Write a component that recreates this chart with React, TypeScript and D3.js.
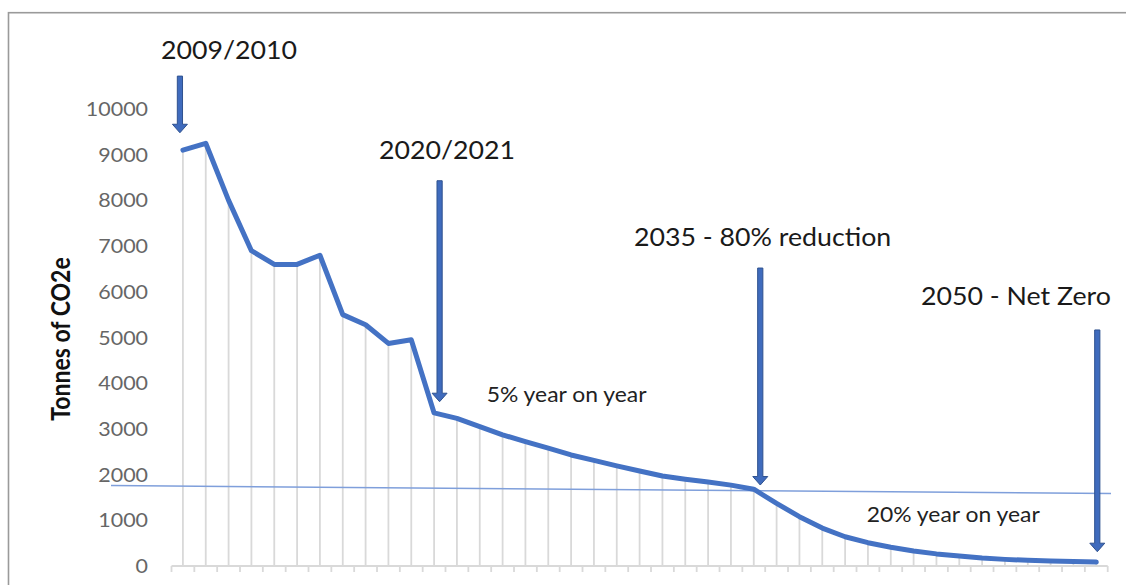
import React from "react";
import * as d3 from "d3";

// Financial years on the category axis
const CATEGORIES = [
  "2009/10", "2010/11", "2011/12", "2012/13", "2013/14", "2014/15", "2015/16",
  "2016/17", "2017/18", "2018/19", "2019/20", "2020/21", "2021/22", "2022/23",
  "2023/24", "2024/25", "2025/26", "2026/27", "2027/28", "2028/29", "2029/30",
  "2030/31", "2031/32", "2032/33", "2033/34", "2034/35", "2035/36", "2036/37",
  "2037/38", "2038/39", "2039/40", "2040/41", "2041/42", "2042/43", "2043/44",
  "2044/45", "2045/46", "2046/47", "2047/48", "2048/49", "2049/50",
];

// Tonnes of CO2e per year (actuals, then the reduction pathway)
const EMISSIONS = [
  9100, 9250, 8000, 6900, 6600, 6600, 6800, 5500, 5280, 4870, 4950,
  3350, 3230, 3050, 2870, 2720, 2580, 2430, 2310, 2190, 2080, 1970, 1900, 1840, 1770, 1680,
  1370, 1080, 830, 640, 510, 410, 330, 265, 220, 175, 145, 125, 110, 100, 85,
];

const Y_TICKS = [0, 1000, 2000, 3000, 4000, 5000, 6000, 7000, 8000, 9000, 10000];

// Milestone call-outs
const MILESTONE_LABELS = ["2009/2010", "2020/2021", "2035 - 80% reduction", "2050 - Net Zero"];
const MILESTONE_CATEGORIES = ["2009/10", "2020/21", "2034/35", "2049/50"];
const ARROW_FROM = [10720, 8430, 6520, 5165];
const ARROW_TO = [9480, 3595, 1772, 313];

// Rate notes
const RATE_NOTES = ["5% year on year", "20% year on year"];

// Level line (tonnes at its left and right ends)
const LEVEL_LINE = [1760, 1585];

// ---- layout ----
const W = 1126;
const H = 585;
const X0 = 171.5;
const X1 = 1107.7;
const Y_TOP = 109;
const Y_BASE = 566;
const SX = 1.1; // horizontal stretch applied to text

const ARROW_NUDGE = [-3, 5.5, 6.5, 1];
const LABEL_X = [161, 379, 634, 921];
const LABEL_Y = [59.3, 159.3, 246, 305];
const NOTE_X = [486.7, 866.7];
const NOTE_Y = [401.7, 522.3];
const LEVEL_X = [111, 1111];

const FONT = "Lato, 'Open Sans', sans-serif";

export default function App() {
  const x = d3.scaleBand<string>().domain(CATEGORIES).range([X0, X1]).padding(0);
  const y = d3.scaleLinear().domain([0, 10000]).range([Y_BASE, Y_TOP]);
  const cx = (c: string) => (x(c) ?? 0) + x.bandwidth() / 2;

  const lineGen = d3
    .line<number>()
    .x((_, i) => cx(CATEGORIES[i]))
    .y((d) => y(d));

  const boundaries = d3.range(CATEGORIES.length + 1).map((i) => X0 + i * x.bandwidth());

  const arrowPath = (ax: number, top: number, tip: number) => {
    const sw = 2.6;
    const hw = 7.5;
    const hh = 8.5;
    const neck = tip - hh;
    return `M${ax - sw},${top} L${ax + sw},${top} L${ax + sw},${neck} L${ax + hw},${neck} L${ax},${tip} L${ax - hw},${neck} L${ax - sw},${neck} Z`;
  };

  return (
    <svg
      width={W}
      height={H}
      style={{ position: "absolute", left: 0, top: 0, background: "#fff" }}
      fontFamily={FONT}
    >
      {/* chart frame */}
      <rect x={8.5} y={12.7} width={W + 20} height={H + 20} fill="#fff" stroke="#9a9a9a" strokeWidth={1.6} />

      {/* y tick labels */}
      {Y_TICKS.map((t) => (
        <g key={t} transform={`translate(148,${y(t)}) scale(${SX},1)`}>
          <text textAnchor="end" dy="0.36em" fontSize={19.5} fill="#666">
            {t}
          </text>
        </g>
      ))}

      {/* y axis title */}
      <g transform={`translate(70,339) rotate(-90) scale(1,1.12)`}>
        <text textAnchor="middle" fontSize={23} fontWeight="bold" fill="#111">
          Tonnes of CO2e
        </text>
      </g>

      {/* drop lines */}
      {EMISSIONS.map((v, i) => (
        <line
          key={i}
          x1={cx(CATEGORIES[i])}
          x2={cx(CATEGORIES[i])}
          y1={y(v)}
          y2={Y_BASE}
          stroke="#d9d9d9"
          strokeWidth={1.8}
        />
      ))}

      {/* category axis */}
      <line x1={X0} x2={X1} y1={Y_BASE} y2={Y_BASE} stroke="#d9d9d9" strokeWidth={2} />
      {boundaries.map((bx, i) => (
        <line key={i} x1={bx} x2={bx} y1={Y_BASE} y2={Y_BASE + 6} stroke="#d9d9d9" strokeWidth={1.8} />
      ))}

      {/* level line */}
      <line
        x1={LEVEL_X[0]}
        x2={LEVEL_X[1]}
        y1={y(LEVEL_LINE[0])}
        y2={y(LEVEL_LINE[1])}
        stroke="#7f9fdb"
        strokeWidth={1.5}
      />

      {/* emissions line */}
      <path
        d={lineGen(EMISSIONS) ?? ""}
        fill="none"
        stroke="#4472C4"
        strokeWidth={5}
        strokeLinejoin="round"
        strokeLinecap="round"
      />

      {/* milestone arrows and labels */}
      {MILESTONE_LABELS.map((label, i) => {
        const ax = cx(MILESTONE_CATEGORIES[i]) + ARROW_NUDGE[i];
        return (
          <g key={label}>
            <path
              d={arrowPath(ax, y(ARROW_FROM[i]), y(ARROW_TO[i]))}
              fill="#3f6bbd"
              stroke="#2F528F"
              strokeWidth={1}
            />
            <g transform={`translate(${LABEL_X[i]},${LABEL_Y[i]}) scale(${SX},1)`}>
              <text fontSize={24.3} fill="#1a1a1a">
                {label}
              </text>
            </g>
          </g>
        );
      })}

      {/* rate notes */}
      {RATE_NOTES.map((note, i) => (
        <g key={note} transform={`translate(${NOTE_X[i]},${NOTE_Y[i]}) scale(${SX},1)`}>
          <text fontSize={20.8} fill="#222">
            {note}
          </text>
        </g>
      ))}
    </svg>
  );
}
